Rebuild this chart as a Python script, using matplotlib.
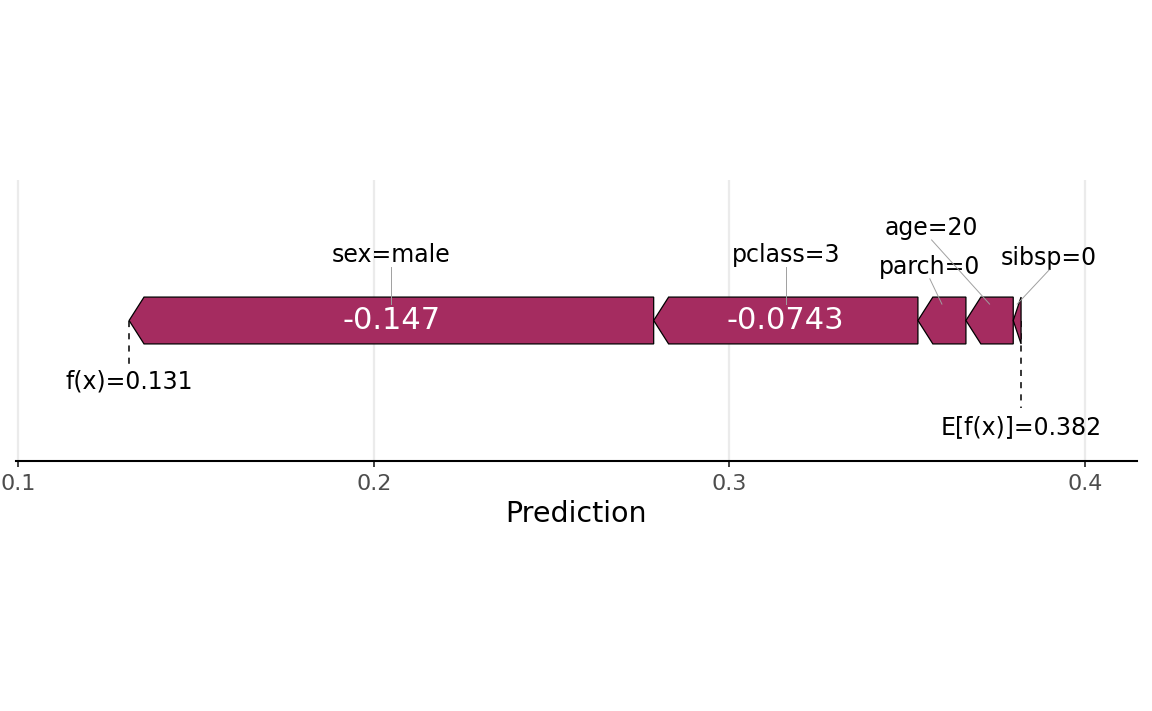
import numpy as np
import matplotlib.pyplot as plt
from matplotlib.patches import Polygon

plt.rcParams['font.family'] = ['DejaVu Sans']

# SHAP force plot data (one observation, titanic)
features = ['sex', 'pclass', 'parch', 'age', 'sibsp']
feature_values = ['male', '3', '0', '20', '0']
shap_values = np.array([-0.1475, -0.0743, -0.0135, -0.0133, -0.0022])
baseline = 0.382

bar_color = '#A52C60'

# label layout (x offset from segment centre, y height)
label_dx = [0.0, 0.0, -0.0034, -0.0163, 0.009]
label_y = [1.39, 1.39, 1.14, 1.97, 1.33]

fx = baseline + shap_values.sum()
right = fx + np.cumsum(-shap_values)
left = right + shap_values

fig = plt.figure(figsize=(11.52, 7.11), dpi=100)
ax = fig.add_axes([16 / 1152, 1 - 461 / 711, (1137 - 16) / 1152, (461 - 180) / 711])

head = 0.0042
for i in range(len(features)):
    xl, xr = left[i], right[i]
    hw = min(head, xr - xl)
    pts = [(xl, 0), (xl + hw, 0.5), (xr, 0.5), (xr, -0.5), (xl + hw, -0.5)]
    ax.add_patch(Polygon(pts, closed=True, facecolor=bar_color,
                         edgecolor='black', lw=0.9, zorder=3))
    mid = (xl + xr) / 2
    if xr - xl > 0.05:
        ax.text(mid, 0, f'{shap_values[i]:.3g}', color='white', fontsize=22,
                ha='center', va='center', zorder=4)
    tx = mid + label_dx[i]
    ty = label_y[i]
    ax.text(tx, ty, f'{features[i]}={feature_values[i]}', fontsize=17,
            ha='center', va='center', zorder=4)
    ax.plot([tx, mid], [ty - 0.25, 0.35], color='#A0A0A0', lw=0.7, zorder=5)

# f(x) and E[f(x)] markers
ax.plot([fx, fx], [0, -0.95], color='black', lw=1.1, ls=(0, (4, 4)), zorder=2)
ax.text(fx, -1.31, f'f(x)={fx:.3g}', fontsize=17, ha='center', va='center')
ax.plot([baseline, baseline], [0, -1.86], color='black', lw=1.1, ls=(0, (4, 4)), zorder=2)
ax.text(baseline, -2.27, f'E[f(x)]={baseline:.3g}', fontsize=17, ha='center', va='center')

ax.set_xlim(0.0994, 0.4146)
ax.set_ylim(-3, 3)
ax.set_xticks([0.1, 0.2, 0.3, 0.4])
ax.set_xticklabels(['0.1', '0.2', '0.3', '0.4'])
ax.set_yticks([])
ax.grid(axis='x', color='#EBEBEB', lw=1.6, zorder=0)
ax.set_axisbelow(True)
for s in ['top', 'right', 'left']:
    ax.spines[s].set_visible(False)
ax.spines['bottom'].set_linewidth(1.5)
ax.tick_params(axis='x', length=4, width=1.3, color='#333333',
               labelcolor='#4D4D4D', labelsize=16, pad=5)
ax.set_xlabel('Prediction', fontsize=20.5, labelpad=5)

fig.savefig('out.png', dpi=100)
